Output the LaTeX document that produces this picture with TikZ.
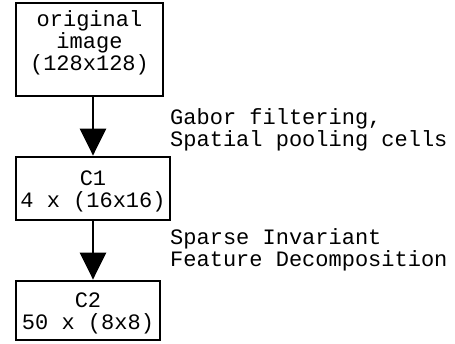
\documentclass[tikz,border=0pt]{standalone}
\usepackage{fontspec}
\setmonofont{Liberation Mono}
\usetikzlibrary{arrows.meta}
\tikzset{
  boxstyle/.style={draw=black, line width=2.8pt, rectangle, inner sep=0pt},
  txtstyle/.style={inner sep=0pt, align=center,
    font=\ttfamily\fontsize{22}{22}\selectfont},
  labelstyle/.style={anchor=west, inner sep=0pt, align=left,
    font=\ttfamily\fontsize{22}{18}\selectfont},
  flow/.style={line width=2.8pt, -{Triangle[width=26pt,length=27pt]}}
}
\begin{document}
\begin{tikzpicture}[x=1pt,y=-1pt]
\useasboundingbox (0,0) rectangle (455,343);
\node[boxstyle, minimum width=147pt, minimum height=93pt] (orig) at (89.5,49.5) {};
\node[boxstyle, minimum width=154pt, minimum height=63pt] (c1) at (93,188.5) {};
\node[boxstyle, minimum width=144pt, minimum height=59pt] (c2) at (88,310.5) {};
\node[txtstyle] (origt) at (89.5,43) {original\\image\\(128x128)};
\node[txtstyle] (c1t) at (93,191.5) {C1\\4 x (16x16)};
\node[txtstyle] (c2t) at (88,313.5) {C2\\50 x (8x8)};
\draw[flow] (orig.south -| c1.north) -- (c1.north);
\draw[flow] (c1.south) -- (c1.south |- c2.north);
\node[labelstyle] (l1) at (170,130) {Gabor filtering,\\Spatial pooling cells};
\node[labelstyle] (l2) at (170,250) {Sparse Invariant\\Feature Decomposition};
\end{tikzpicture}
\end{document}
